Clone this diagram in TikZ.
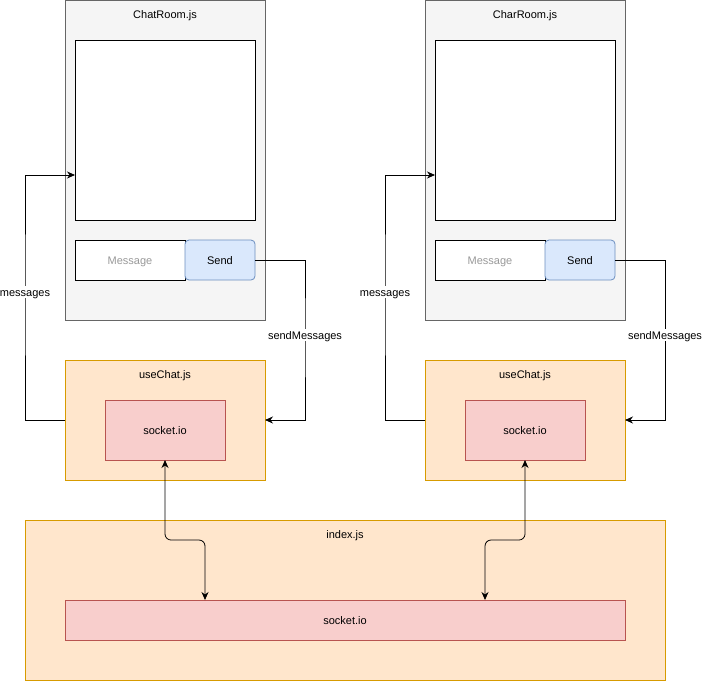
\documentclass[tikz,border=0pt]{standalone}
\usepackage{fontspec}
\setmainfont{Liberation Sans}
\usetikzlibrary{arrows.meta}
\definecolor{grayfill}{HTML}{F5F5F5}
\definecolor{graydraw}{HTML}{666666}
\definecolor{orfill}{HTML}{FFE6CC}
\definecolor{ordraw}{HTML}{D79B00}
\definecolor{redfill}{HTML}{F8CECC}
\definecolor{reddraw}{HTML}{B85450}
\definecolor{bluefill}{HTML}{DAE8FC}
\definecolor{bluedraw}{HTML}{6C8EBF}
\definecolor{msggray}{HTML}{999999}
\tikzset{
  txt/.style={font=\fontsize{11}{13}\selectfont, text height=9pt, text depth=0pt},
  box/.style={draw, line width=0.8pt, inner sep=0pt, outer sep=0pt, txt},
  roomstyle/.style={box, fill=grayfill, draw=graydraw},
  hookstyle/.style={box, fill=orfill, draw=ordraw},
  sockstyle/.style={box, fill=redfill, draw=reddraw},
  whitebox/.style={box, fill=white, draw=black},
  sendstyle/.style={box, fill=bluefill, draw=bluedraw, rounded corners=4pt},
  title/.style={txt, anchor=center},
  lbl/.style={txt, fill=white, inner sep=1.5pt},
  conn/.style={draw=black, line width=0.8pt, -{Stealth[length=8pt,width=7pt]}},
  bconn/.style={draw=black, line width=0.8pt, {Stealth[length=8pt,width=7pt]}-{Stealth[length=8pt,width=7pt]}, rounded corners=6pt},
}
\begin{document}
\begin{tikzpicture}[x=1pt,y=-1pt]
\useasboundingbox (0,0) rectangle (703,681);
% index
\node[hookstyle, minimum width=640pt, minimum height=160pt] (idx) at (345,600) {};
\node[title] (idxt) at (345,534) {index.js};
\node[sockstyle, minimum width=560pt, minimum height=40pt] (isock) at (345,620) {socket.io};
\foreach \o/\name/\ttl in {0/L/ChatRoom.js, 360/R/CharRoom.js}{
  \node[roomstyle, minimum width=200pt, minimum height=320pt] (room\name) at (165+\o,160) {};
  \node[title] (roomt\name) at (165+\o,14) {\ttl};
  \node[whitebox, minimum width=180pt, minimum height=180pt] (win\name) at (165+\o,130) {};
  \node[whitebox, minimum width=110pt, minimum height=40pt, text=msggray] (msg\name) at (130+\o,260) {Message};
  \node[sendstyle, minimum width=70pt, minimum height=40pt] (send\name) at (220+\o,260) {Send};
  \node[hookstyle, minimum width=200pt, minimum height=120pt] (hook\name) at (165+\o,420) {};
  \node[title] (hookt\name) at (165+\o,374) {useChat.js};
  \node[sockstyle, minimum width=120pt, minimum height=60pt] (sock\name) at (165+\o,430) {socket.io};
  \coordinate (ml\name) at (25+\o,292);
  \coordinate (sl\name) at (305+\o,335);
}
% messages arrows
\draw[conn] (hookL.west) -| (mlL) |- (75,175);
\node[lbl] at (mlL) {messages};
\draw[conn] (hookR.west) -| (mlR) |- (435,175);
\node[lbl] at (mlR) {messages};
% sendMessages arrows
\draw[conn] (sendL.east) -| (slL) |- (hookL.east);
\node[lbl] at (slL) {sendMessages};
\draw[conn] (sendR.east) -| (slR) |- (hookR.east);
\node[lbl] at (slR) {sendMessages};
% bidirectional
\draw[bconn] (sockL.south) -- (165,540) -- (205,540) -- (205,600);
\draw[bconn] (sockR.south) -- (525,540) -- (485,540) -- (485,600);
\end{tikzpicture}
\end{document}
